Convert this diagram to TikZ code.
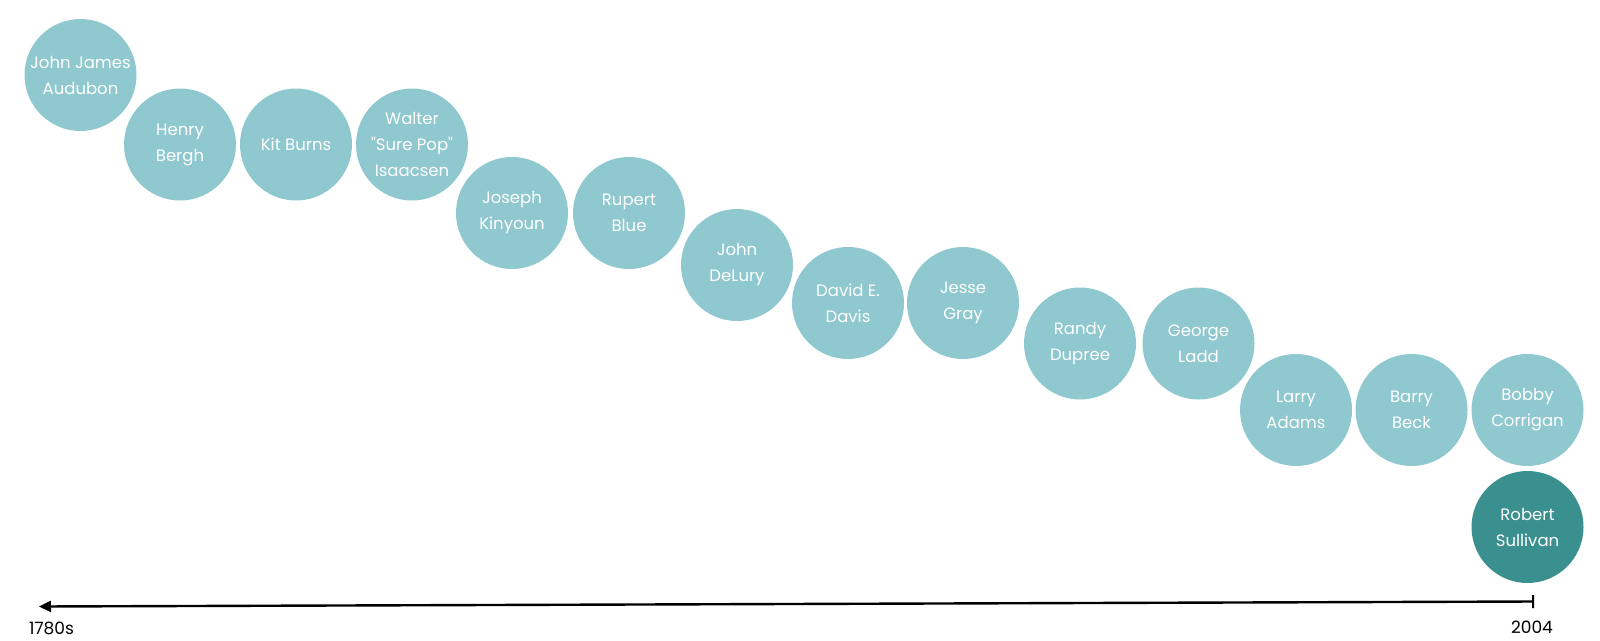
\documentclass[tikz,border=0pt]{standalone}
\usepackage{fontspec}
\setmainfont{Poppins}
\usetikzlibrary{arrows.meta}
\definecolor{lightteal}{HTML}{8FC8CF}
\definecolor{darkteal}{HTML}{3A8F8F}
\tikzset{
  person/.style={circle, fill=lightteal, draw=none, minimum size=112pt, inner sep=0pt,
    text=white, align=center, font=\fontsize{16.5}{26}\selectfont},
  current/.style={person, fill=darkteal},
  yearlabel/.style={font=\fontsize{17}{18}\selectfont, text=black, inner sep=0pt},
  axisline/.style={line width=2.4pt, black, {Bar[width=13pt,line width=2pt]}-{Triangle[length=12pt,width=11pt]}}
}
\begin{document}
\begin{tikzpicture}[x=1pt,y=-1pt]
\useasboundingbox (0,0) rectangle (1600,640);
\node[person] (audubon) at (80.5,75) {John James\\Audubon};
\node[person] (bergh) at (180,144.5) {Henry\\Bergh};
\node[person] (burns) at (296,144.5) {Kit Burns};
\node[person] (isaacsen) at (412,144.5) {Walter\\\textquotedbl Sure Pop\textquotedbl\\Isaacsen};
\node[person] (kinyoun) at (512,213) {Joseph\\Kinyoun};
\node[person] (blue) at (629,213) {Rupert\\Blue};
\node[person] (delury) at (737,265) {John\\DeLury};
\node[person] (davis) at (848,303) {David E.\\Davis};
\node[person] (gray) at (963,303) {Jesse\\Gray};
\node[person] (dupree) at (1080,343.5) {Randy\\Dupree};
\node[person] (ladd) at (1198.5,343.5) {George\\Ladd};
\node[person] (adams) at (1296,410) {Larry\\Adams};
\node[person] (beck) at (1411.5,410) {Barry\\Beck};
\node[person] (corrigan) at (1527.5,410) {Bobby\\Corrigan};
\node[current] (sullivan) at (1527.5,527) {Robert\\Sullivan};
\coordinate (end) at (1534,601.5);
\coordinate (start) at (39,606.5);
\draw[axisline] (end) -- (start);
\node[yearlabel] (y1780) at (51.5,628) {1780s};
\node[yearlabel] (y2004) at (1532,627) {2004};
\end{tikzpicture}
\end{document}
